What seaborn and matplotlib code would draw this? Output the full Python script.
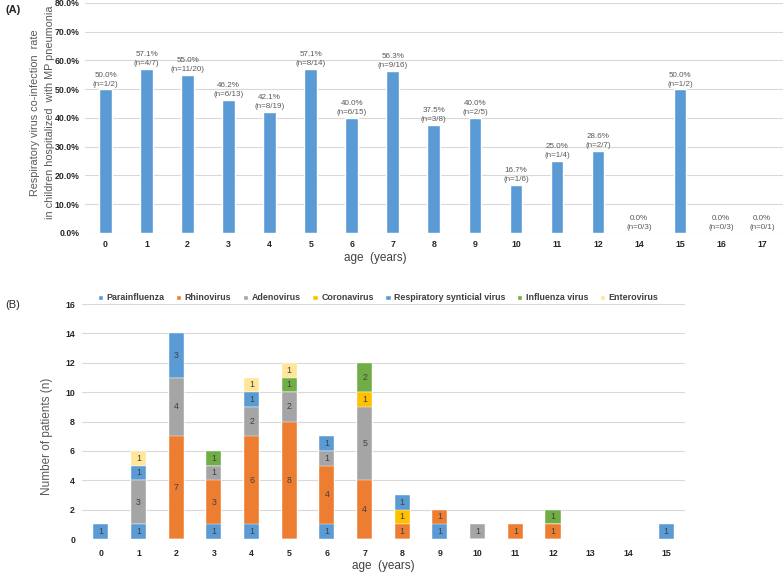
import matplotlib
matplotlib.use("Agg")
import matplotlib.pyplot as plt
from matplotlib.patches import Patch
import numpy as np
import pandas as pd
import seaborn as sns

# (A) co-infection rate by age
ages_a = ["0", "1", "2", "3", "4", "5", "6", "7", "8", "9", "10", "11", "12", "14", "15", "16", "17"]
rate_pct = [50.0, 57.1, 55.0, 46.2, 42.1, 57.1, 40.0, 56.3, 37.5, 40.0, 16.7, 25.0, 28.6, 0.0, 50.0, 0.0, 0.0]
n_labels = ["n=1/2", "n=4/7", "n=11/20", "n=6/13", "n=8/19", "n=8/14", "n=6/15", "n=9/16", "n=3/8",
            "n=2/5", "n=1/6", "n=1/4", "n=2/7", "n=0/3", "n=1/2", "n=0/3", "n=0/1"]

# (B) virus counts by age (stack order bottom -> top)
ages_b = [str(a) for a in range(16)]
viruses = ["Parainfluenza", "Rhinovirus", "Adenovirus", "Coronavirus",
           "Respiratory synticial virus", "Influenza virus", "Enterovirus"]
parainfluenza = [1, 1, 0, 1, 1, 0, 1, 0, 0, 1, 0, 0, 0, 0, 0, 1]
rhinovirus    = [0, 0, 7, 3, 6, 8, 4, 4, 1, 1, 0, 1, 1, 0, 0, 0]
adenovirus    = [0, 3, 4, 1, 2, 2, 1, 5, 0, 0, 1, 0, 0, 0, 0, 0]
coronavirus   = [0, 0, 0, 0, 0, 0, 0, 1, 1, 0, 0, 0, 0, 0, 0, 0]
rsv           = [0, 1, 3, 0, 1, 0, 1, 0, 1, 0, 0, 0, 0, 0, 0, 0]
influenza     = [0, 0, 0, 1, 0, 1, 0, 2, 0, 0, 0, 0, 1, 0, 0, 0]
enterovirus   = [0, 1, 0, 0, 1, 1, 0, 0, 0, 0, 0, 0, 0, 0, 0, 0]
colors = ["#5B9BD5", "#ED7D31", "#A5A5A5", "#FFC000", "#5B9BD5", "#70AD47", "#FFE699"]

sns.set_style("white")
plt.rcParams["font.family"] = ["Liberation Sans", "DejaVu Sans"]

fig = plt.figure(figsize=(7.83, 5.73), dpi=100)
ax1 = fig.add_axes([0.1086, 0.5934, 0.891, 0.4014])
ax2 = fig.add_axes([0.1047, 0.0593, 0.770, 0.410])

# ---- panel A
df_a = pd.DataFrame({"age": ages_a, "rate": [r / 100 for r in rate_pct]})
sns.barplot(data=df_a, x="age", y="rate", color="#5B9BD5", width=0.31,
            saturation=1, ax=ax1, zorder=3)
for i, (r, n) in enumerate(zip(rate_pct, n_labels)):
    ax1.text(i, r / 100 + 0.006, f"{r:.1f}%\n({n})", ha="center", va="bottom",
             fontsize=5.8, color="#595959", linespacing=1.4)
ax1.set_ylim(0, 0.8)
ax1.set_yticks(np.arange(0, 0.81, 0.1))
ax1.set_yticklabels([f"{v * 100:.1f}%" for v in np.arange(0, 0.81, 0.1)])
ax1.grid(axis="y", color="#D9D9D9", linewidth=0.8, zorder=0)
ax1.set_xlabel("")
ax1.set_ylabel("Respiratory virus co-infection  rate\nin children hospitalized  with MP pneumonia",
               fontsize=7.8, color="#595959", linespacing=1.6)
ax1.yaxis.set_label_coords(-0.043, 0.525)

# ---- panel B (stacked with cumulative overlap)
df_b = pd.DataFrame({"age": ages_b, "Parainfluenza": parainfluenza, "Rhinovirus": rhinovirus,
                     "Adenovirus": adenovirus, "Coronavirus": coronavirus,
                     "Respiratory synticial virus": rsv, "Influenza virus": influenza,
                     "Enterovirus": enterovirus})
cum = df_b[viruses].cumsum(axis=1)
for v, c in reversed(list(zip(viruses, colors))):
    sns.barplot(x=df_b["age"], y=cum[v], color=c, width=0.4, saturation=1,
                ax=ax2, zorder=3, linewidth=0.3, edgecolor="white")
for i in range(len(ages_b)):
    for v in viruses:
        val = df_b.loc[i, v]
        if val > 0:
            ax2.text(i, cum.loc[i, v] - val / 2, str(val), ha="center", va="center",
                     fontsize=6.3, color="#404040", zorder=5)
ax2.set_ylim(0, 16)
ax2.set_yticks(range(0, 17, 2))
ax2.grid(axis="y", color="#D9D9D9", linewidth=0.8, zorder=0)
ax2.set_xlabel("")
ax2.set_ylabel("Number of patients (n)", fontsize=8.5, color="#595959")
ax2.yaxis.set_label_coords(-0.048, 0.438)

for ax in (ax1, ax2):
    sns.despine(ax=ax, left=True, bottom=True)
    ax.tick_params(length=0, labelsize=6.3, labelcolor="#262626")
    for lab in ax.get_xticklabels() + ax.get_yticklabels():
        lab.set_fontweight("bold")
ax1.tick_params(axis="x", pad=5)
ax2.tick_params(axis="x", pad=7)
ax1.tick_params(axis="y", pad=4)
ax2.tick_params(axis="y", pad=5)

fig.text(375 / 783, 1 - 258 / 573, "age  (years)", ha="center", va="center",
         fontsize=8.5, color="#404040")
fig.text(383 / 783, 1 - 566 / 573, "age  (years)", ha="center", va="center",
         fontsize=8.5, color="#404040")
fig.text(5 / 783, 1 - 10 / 573, "(A)", fontsize=8, fontweight="bold", va="center")
fig.text(5 / 783, 1 - 305 / 573, "(B)", fontsize=8, va="center")

handles = [Patch(facecolor=c, label=v) for v, c in zip(viruses, colors)]
leg = fig.legend(handles=handles, loc="center", bbox_to_anchor=(378 / 783, 1 - 298 / 573),
                 ncol=7, frameon=False, fontsize=6.4, handlelength=0.6, handleheight=0.6,
                 handletextpad=0.4, columnspacing=1.3)
for t in leg.get_texts():
    t.set_fontweight("bold")
    t.set_color("#404040")

fig.savefig("out.png", dpi=100)
